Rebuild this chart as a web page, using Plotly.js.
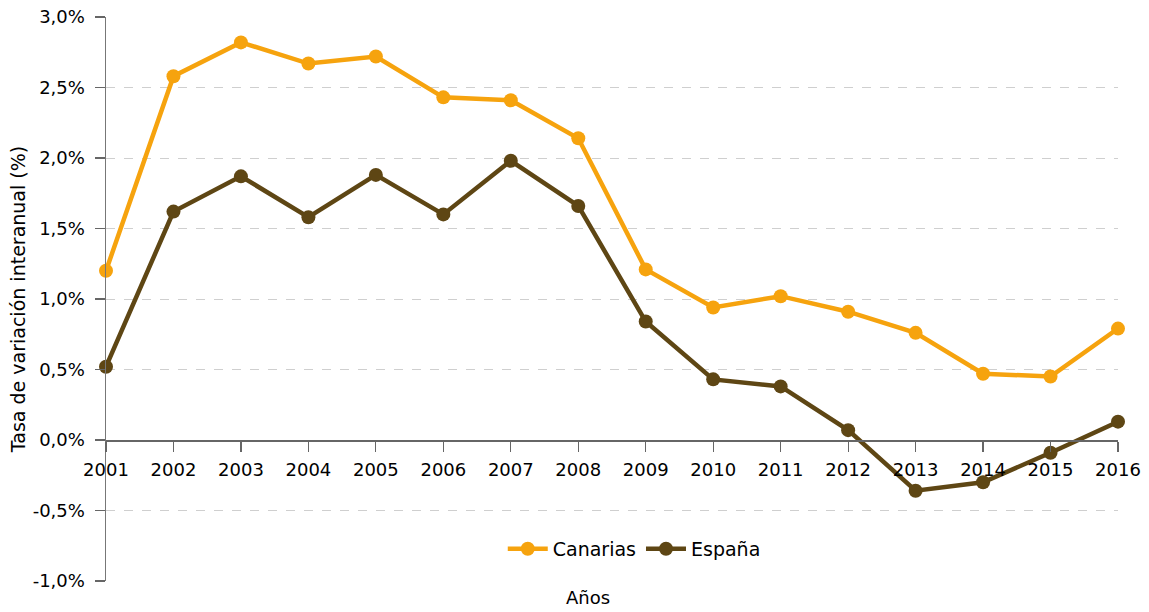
<!DOCTYPE html>
<html>
<head>
<meta charset="utf-8">
<script src="https://cdn.plot.ly/plotly-3.0.1.min.js"></script>
<style>html,body{margin:0;padding:0;background:#fff;}#chart{width:1149px;height:612px;}</style>
</head>
<body>
<div id="chart"></div>
<script>
var years = [2001,2002,2003,2004,2005,2006,2007,2008,2009,2010,2011,2012,2013,2014,2015,2016];
var canarias = [1.20,2.58,2.82,2.67,2.72,2.43,2.41,2.14,1.21,0.94,1.02,0.91,0.76,0.47,0.45,0.79];
var espana = [0.52,1.62,1.87,1.58,1.88,1.60,1.98,1.66,0.84,0.43,0.38,0.07,-0.36,-0.30,-0.09,0.13];
var yTickVals = [-1.0,-0.5,0.0,0.5,1.0,1.5,2.0,2.5,3.0];
var yTickText = ['-1,0%','-0,5%','0,0%','0,5%','1,0%','1,5%','2,0%','2,5%','3,0%'];
var xTickText = years.map(String);

var FONT = 'DejaVu Sans, Verdana, sans-serif';
var traces = [
  {x: years, y: canarias, name: 'Canarias', type: 'scatter', mode: 'lines+markers',
   line: {color: '#F6A30E', width: 4.5}, marker: {color: '#F6A30E', size: 14}, cliponaxis: false},
  {x: years, y: espana, name: 'España', type: 'scatter', mode: 'lines+markers',
   line: {color: '#5E4614', width: 4.5}, marker: {color: '#5E4614', size: 14}, cliponaxis: false}
];
var layout = {
  width: 1149, height: 612,
  margin: {l: 106, r: 31, t: 17, b: 31},
  paper_bgcolor: '#fff', plot_bgcolor: '#fff',
  font: {family: FONT, size: 18, color: '#000'},
  showlegend: true,
  legend: {orientation: 'h', x: 0.522, y: 0.057, xanchor: 'center', yanchor: 'middle',
           font: {family: FONT, size: 19, color: '#000'}, bgcolor: 'rgba(0,0,0,0)', itemwidth: 40},
  xaxis: {range: [2001, 2016], tickvals: years, ticktext: xTickText,
          anchor: 'free', position: 0.25, showgrid: false, zeroline: false,
          showline: true, linecolor: '#666', linewidth: 1.5,
          ticks: 'outside', ticklen: 10, tickcolor: '#666', tickwidth: 1.2,
          ticklabelstandoff: 3,
          tickfont: {family: FONT, size: 18, color: '#000'}, fixedrange: true},
  yaxis: {range: [-1.0, 3.0], tickvals: yTickVals, ticktext: yTickText,
          showgrid: true, gridcolor: '#cfcfcf', griddash: 'dash', gridwidth: 1,
          zeroline: false, showline: true, linecolor: '#777', linewidth: 1.5,
          ticks: 'outside', ticklen: 10, tickcolor: '#666', tickwidth: 1.2,
          ticklabelstandoff: 6,
          tickfont: {family: FONT, size: 18, color: '#000'},
          title: {text: 'Tasa de variación interanual (%)', font: {family: FONT, size: 19, color: '#000'}, standoff: 2},
          automargin: false, fixedrange: true},
  annotations: [
    {text: 'Años', xref: 'paper', yref: 'paper', x: 0.476, y: -0.030, xanchor: 'center', yanchor: 'middle',
     showarrow: false, font: {family: FONT, size: 18, color: '#000'}}
  ]
};
Plotly.newPlot('chart', traces, layout, {displayModeBar: false, staticPlot: true});
</script>
</body>
</html>
